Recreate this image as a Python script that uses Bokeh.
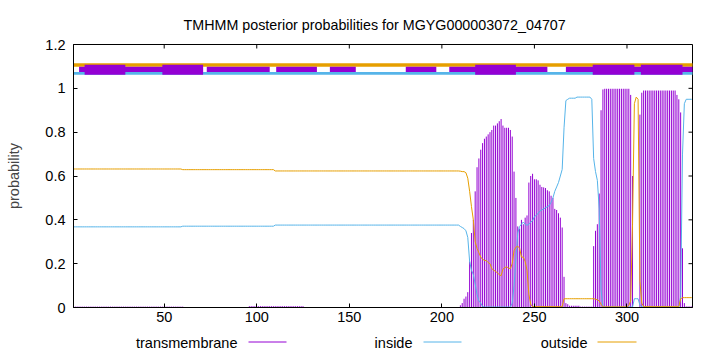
from bokeh.plotting import figure
from bokeh.models import Range1d, FixedTicker, NumeralTickFormatter
from bokeh.layouts import column
from bokeh.embed import file_html
from bokeh.resources import INLINE
from bokeh.core.properties import value

FONT = "Liberation Sans"

def runs(*parts):
    out = []
    for part in parts:
        if isinstance(part, tuple):
            out += [part[0]] * part[1]
        else:
            out += list(part)
    return out

residues = list(range(1, 336))

transmembrane = runs(
    (0.004, 60), (0.001, 35), (0.006, 30), (0.001, 84),
    [0.01, 0.02, 0.04, 0.05, 0.07, 0.21, 0.34, 0.40, 0.53, 0.64, 0.68, 0.72, 0.75,
     0.77, 0.78, 0.79, 0.80, 0.81, 0.83, 0.83, 0.84, 0.85, 0.86, 0.83, 0.82, 0.82,
     0.82, 0.81, 0.78, 0.62, 0.50, 0.37, 0.36, 0.40, 0.38, 0.41, 0.42, 0.57, 0.60,
     0.61, 0.585, 0.585, 0.58, 0.56, 0.55, 0.548, 0.545, 0.535, 0.53, 0.51, 0.50,
     0.45, 0.445, 0.43, 0.41, 0.365, 0.14, 0.02, 0.015],
    (0.008, 6), (0.004, 7),
    [0.28, 0.35, 0.38, 0.52, 0.90, 0.995],
    (0.998, 14),
    [0.97, 0.60],
    (0.002, 3),
    [0.88, 0.98],
    (0.99, 18),
    [0.97, 0.95, 0.89, 0.27, 0.02],
    (0.005, 4),
)

inside = runs(
    (0.368, 59), (0.371, 50), (0.376, 100),
    [0.37, 0.365, 0.36, 0.35, 0.32, 0.21, 0.17, 0.15, 0.107, 0.06, 0.03, 0.02, 0.005],
    (0.002, 15),
    [0.02, 0.10, 0.22, 0.34, 0.37, 0.38, 0.39, 0.38, 0.375, 0.38, 0.39, 0.395, 0.415,
     0.42, 0.43, 0.44, 0.445, 0.45, 0.455, 0.46, 0.465, 0.48, 0.50, 0.53, 0.55, 0.57,
     0.60, 0.63, 0.82, 0.944, 0.95],
    (0.955, 4), (0.96, 8),
    [0.95, 0.68, 0.62, 0.58, 0.45, 0.08, 0.005],
    (0.002, 16),
    [0.04, 0.04, 0.04, 0.01],
    (0.003, 21),
    [0.05, 0.70, 0.93],
    (0.95, 4),
)

outside = runs(
    (0.632, 59), (0.629, 50), (0.623, 100),
    [0.622, 0.62, 0.62, 0.615, 0.59, 0.53, 0.46, 0.40, 0.30, 0.27, 0.25, 0.23, 0.22,
     0.215, 0.214, 0.205, 0.20, 0.177, 0.17, 0.165, 0.158, 0.15, 0.145, 0.175, 0.182,
     0.186, 0.18, 0.177, 0.20, 0.26, 0.275, 0.28, 0.27, 0.23, 0.23, 0.21, 0.17, 0.06,
     0.015],
    (0.004, 17), (0.04, 17),
    [0.038, 0.035, 0.03, 0.015],
    (0.003, 14),
    [0.01, 0.03, 0.38, 0.93, 0.96, 0.95, 0.12, 0.02],
    (0.004, 20),
    [0.04],
    (0.045, 6),
)

# topology strip at the top of the plot (start, end in residue units)
thin_start = [4, 73, 110.5, 139.5, 180.5, 204, 267]
thin_end = [71, 107, 132.5, 153.5, 197, 257, 340]
thick_start = [7, 49, 218, 281.5, 307.5]
thick_end = [29, 71, 240, 304, 330]

x_ticks = [50, 100, 150, 200, 250, 300]
y_ticks = [0, 0.2, 0.4, 0.6, 0.8, 1.0, 1.2]

PURPLE = "#9400D3"
BLUE = "#56B4E9"
ORANGE = "#E69F00"

X_MIN, X_MAX = 1, 335.4
Y_MIN, Y_MAX = 0, 1.2
LEFT, RIGHT = 73, 28
FRAME_W, FRAME_H = 720 - LEFT - RIGHT, 263
TICK_PX = 4

p = figure(width=720, height=330, output_backend="svg", toolbar_location=None,
           x_range=Range1d(X_MIN, X_MAX), y_range=Range1d(Y_MIN, Y_MAX),
           min_border_left=LEFT, min_border_right=RIGHT, min_border_top=44,
           min_border_bottom=23,
           title="TMHMM posterior probabilities for MGYG000003072_04707")
p.title.align = "left"
p.title.offset = 110
p.title.standoff = 24
p.title.text_font = FONT
p.title.text_font_size = "14.3px"
p.title.text_font_style = "normal"
p.title.text_color = "black"
p.xgrid.visible = False
p.ygrid.visible = False
p.outline_line_color = "black"
p.outline_line_width = 1
p.background_fill_color = "white"
p.border_fill_color = "white"

for ax in (p.xaxis[0], p.yaxis[0]):
    ax.major_tick_in = TICK_PX
    ax.major_tick_out = 0
    ax.minor_tick_line_color = None
    ax.axis_line_color = "black"
    ax.major_tick_line_color = "black"
    ax.major_label_text_font = FONT
    ax.major_label_text_font_size = "14.5px"
    ax.major_label_text_color = "black"

p.xaxis[0].ticker = FixedTicker(ticks=x_ticks)
p.xaxis[0].major_label_standoff = 4
p.yaxis[0].ticker = FixedTicker(ticks=y_ticks)
p.yaxis[0].formatter = NumeralTickFormatter(format="0.[0]")
p.yaxis[0].major_label_standoff = 8
p.yaxis[0].axis_label = "probability"
p.yaxis[0].axis_label_text_font = FONT
p.yaxis[0].axis_label_text_font_size = "14.5px"
p.yaxis[0].axis_label_text_font_style = "normal"
p.yaxis[0].axis_label_standoff = 20

# posterior probabilities
p.segment(x0=residues, y0=[0] * len(residues), x1=residues, y1=transmembrane,
          line_color=PURPLE, line_width=1)
p.line(residues, inside, line_color=BLUE, line_width=1)
p.line(residues, outside, line_color=ORANGE, line_width=1)

# topology strip
p.quad(left=[-5], right=[345], bottom=[1.062], top=[1.074], fill_color=BLUE, line_color=None)
p.quad(left=[-5], right=[345], bottom=[1.099], top=[1.114], fill_color=ORANGE, line_color=None)
p.quad(left=thin_start, right=thin_end, bottom=[1.074] * len(thin_start),
       top=[1.099] * len(thin_start), fill_color=PURPLE, line_color=None)
p.quad(left=thick_start, right=thick_end, bottom=[1.062] * len(thick_start),
       top=[1.108] * len(thick_start), fill_color=PURPLE, line_color=None)

# mirrored ticks on the top and right borders (gnuplot style)
dy = TICK_PX * (Y_MAX - Y_MIN) / FRAME_H
dx = TICK_PX * (X_MAX - X_MIN) / FRAME_W
p.segment(x0=x_ticks, y0=[Y_MAX] * len(x_ticks), x1=x_ticks, y1=[Y_MAX - dy] * len(x_ticks),
          line_color="black", line_width=1)
p.segment(x0=[X_MAX] * len(y_ticks), y0=y_ticks, x1=[X_MAX - dx] * len(y_ticks), y1=y_ticks,
          line_color="black", line_width=1)

# legend strip (gnuplot style: label then sample line); its frame is aligned
# with the main frame by the column layout, so its x range spans that frame in pixels
leg_labels = ["transmembrane", "inside", "outside"]
leg_colors = [PURPLE, BLUE, ORANGE]
leg = figure(width=720, height=22, output_backend="svg", toolbar_location=None,
             x_range=Range1d(LEFT, 720 - RIGHT), y_range=Range1d(0, 22),
             x_axis_type=None, y_axis_type=None, min_border=0,
             min_border_left=LEFT, min_border_right=RIGHT)
leg.outline_line_color = None
leg.xgrid.visible = False
leg.ygrid.visible = False
leg.text(x=[237, 412, 587], y=[10, 10, 10], text=leg_labels, text_align="right",
         text_baseline="middle", text_font=value(FONT), text_font_size="14.5px",
         text_color="black")
leg.segment(x0=[248, 423, 597], y0=[10.5, 10.5, 10.5], x1=[286, 461, 636], y1=[10.5, 10.5, 10.5],
            line_color=leg_colors, line_width=1)

layout = column(p, leg, spacing=0)
open("out.html", "w").write(file_html(layout, INLINE))
